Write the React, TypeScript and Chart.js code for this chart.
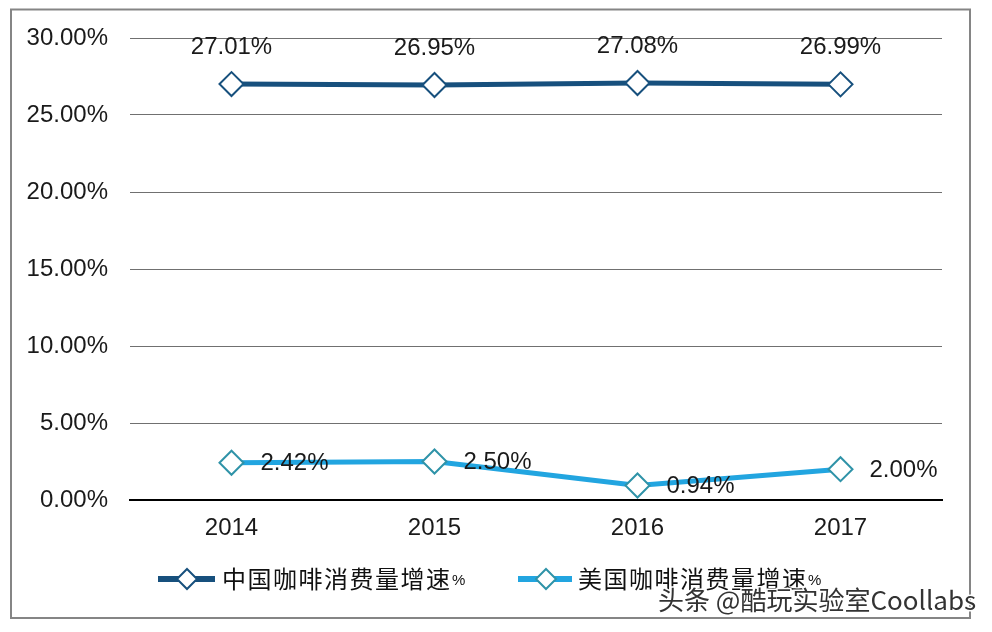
import React, { useEffect, useRef } from "react";
import { Chart, registerables } from "chart.js";

Chart.register(...registerables);

const categories = ["2014", "2015", "2016", "2017"];
const chinaName = "中国咖啡消费量增速";
const usName = "美国咖啡消费量增速";
const chinaValues = [27.01, 26.95, 27.08, 26.99];
const usValues = [2.42, 2.5, 0.94, 2.0];
const yTicks = [0, 5, 10, 15, 20, 25, 30];
const watermark = "头条 @酷玩实验室Coollabs";

const CHINA_COLOR = "#17507d";
const US_COLOR = "#22a5e0";
const US_MARKER = "#2f93a8";
const FONT = '"Liberation Sans", Arial, sans-serif';
const CJK = '"Noto Sans CJK SC", "Noto Sans", sans-serif';

function diamond(ctx: CanvasRenderingContext2D, x: number, y: number, r: number, stroke: string) {
  ctx.beginPath();
  ctx.moveTo(x, y - r);
  ctx.lineTo(x + r, y);
  ctx.lineTo(x, y + r);
  ctx.lineTo(x - r, y);
  ctx.closePath();
  ctx.fillStyle = "#fff";
  ctx.fill();
  ctx.lineWidth = 2;
  ctx.strokeStyle = stroke;
  ctx.stroke();
}

const framePlugin = {
  id: "frame",
  beforeDraw(chart: any) {
    const ctx = chart.ctx;
    ctx.save();
    ctx.fillStyle = "#fff";
    ctx.fillRect(0, 0, chart.width, chart.height);
    ctx.strokeStyle = "#858585";
    ctx.lineWidth = 2;
    ctx.strokeRect(11, 9.5, 959, 608.5);
    ctx.restore();
  },
};

const labelsPlugin = {
  id: "valueLabels",
  afterDatasetsDraw(chart: any) {
    const ctx = chart.ctx;
    ctx.save();
    ctx.font = "24px " + FONT;
    ctx.fillStyle = "#1a1a1a";
    const m0 = chart.getDatasetMeta(0);
    m0.data.forEach((p: any, i: number) => {
      ctx.textAlign = "center";
      ctx.textBaseline = "middle";
      ctx.fillText(chinaValues[i].toFixed(2) + "%", p.x, p.y - 37);
    });
    const m1 = chart.getDatasetMeta(1);
    m1.data.forEach((p: any, i: number) => {
      ctx.textAlign = "left";
      ctx.textBaseline = "middle";
      ctx.fillText(usValues[i].toFixed(2) + "%", p.x + 29, p.y + 1);
    });
    ctx.restore();
  },
  afterDraw(chart: any) {
    const ctx = chart.ctx;
    ctx.save();
    const items = [
      { name: chinaName, color: CHINA_COLOR, marker: CHINA_COLOR, x0: 158, x1: 215, mx: 187, tx: 222 },
      { name: usName, color: US_COLOR, marker: US_MARKER, x0: 518, x1: 572, mx: 546, tx: 578 },
    ];
    const ly = 579;
    const adv = 25.5;
    items.forEach((it) => {
      ctx.beginPath();
      ctx.moveTo(it.x0, ly);
      ctx.lineTo(it.x1, ly);
      ctx.lineWidth = 6;
      ctx.strokeStyle = it.color;
      ctx.stroke();
      diamond(ctx, it.mx, ly, 10, it.marker);
      ctx.fillStyle = "#111";
      ctx.font = "24px " + CJK;
      ctx.textAlign = "left";
      ctx.textBaseline = "middle";
      const chars = Array.from(it.name);
      chars.forEach((c, k) => {
        ctx.fillText(c, it.tx + k * adv, ly);
      });
      ctx.font = "15px " + FONT;
      ctx.fillText("%", it.tx + (chars.length - 1) * adv + 26, ly + 2);
    });
    // watermark
    ctx.font = "26px " + CJK;
    ctx.textAlign = "left";
    ctx.textBaseline = "middle";
    ctx.lineWidth = 3;
    ctx.strokeStyle = "#ffffff";
    ctx.strokeText(watermark, 658, 600);
    ctx.fillStyle = "#333333";
    ctx.fillText(watermark, 658, 600);
    ctx.restore();
  },
};

export default function App() {
  const ref = useRef<HTMLCanvasElement | null>(null);
  useEffect(() => {
    if (!ref.current) return;
    const chart = new Chart(ref.current, {
      type: "line",
      data: {
        labels: categories,
        datasets: [
          {
            label: chinaName + "%",
            data: chinaValues,
            borderColor: CHINA_COLOR,
            borderWidth: 5,
            pointStyle: "rectRot",
            pointRadius: 12,
            pointBorderWidth: 2,
            pointBackgroundColor: "#fff",
            pointBorderColor: CHINA_COLOR,
            tension: 0,
          },
          {
            label: usName + "%",
            data: usValues,
            borderColor: US_COLOR,
            borderWidth: 5,
            pointStyle: "rectRot",
            pointRadius: 12,
            pointBorderWidth: 2,
            pointBackgroundColor: "#fff",
            pointBorderColor: US_MARKER,
            tension: 0,
          },
        ],
      },
      options: {
        responsive: false,
        animation: false,
        layout: { padding: { top: 38, right: 50, bottom: 0, left: 0 } },
        plugins: { legend: { display: false }, tooltip: { enabled: false } },
        scales: {
          x: {
            offset: true,
            grid: { display: false, drawTicks: false },
            border: { display: true, color: "#000", width: 2 },
            ticks: { font: { size: 24, family: FONT }, color: "#1a1a1a", padding: 14 },
            afterFit: (s: any) => {
              s.height = 132;
            },
          },
          y: {
            min: 0,
            max: 30,
            afterBuildTicks: (s: any) => {
              s.ticks = yTicks.map((v) => ({ value: v }));
            },
            grid: {
              drawTicks: false,
              color: (c: any) => (c.tick && c.tick.value === 0 ? "rgba(0,0,0,0)" : "#707070"),
              lineWidth: 1,
            },
            border: { display: false },
            ticks: {
              font: { size: 24, family: FONT },
              color: "#1a1a1a",
              padding: 22,
              callback: (v: any) => Number(v).toFixed(2) + "%",
            },
            afterFit: (s: any) => {
              s.width = 130;
            },
          },
        },
      },
      plugins: [framePlugin, labelsPlugin],
    });
    return () => chart.destroy();
  }, []);
  return (
    <div style={{ position: "fixed", left: 0, top: 0, width: 992, height: 632 }}>
      <canvas ref={ref} width={992} height={632} style={{ width: 992, height: 632 }} />
    </div>
  );
}
